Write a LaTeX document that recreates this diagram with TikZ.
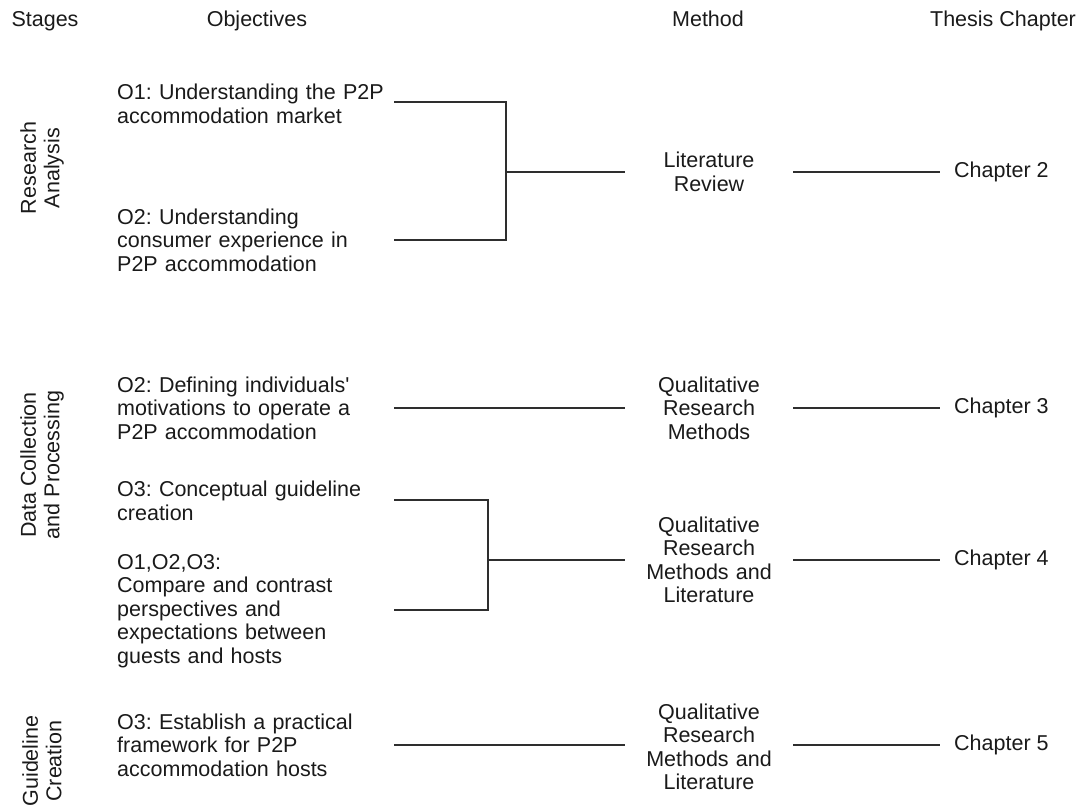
\documentclass[tikz,border=0pt]{standalone}
\usepackage{fontspec}
\setmainfont{Liberation Sans}[Ligatures=TeXOff]
\definecolor{txt}{HTML}{1A1A1A}
\definecolor{ln}{HTML}{2E2E2E}
\frenchspacing
\begin{document}
\begin{tikzpicture}[x=1pt,y=-1pt,
  every node/.style={font=\fontsize{21.5}{23.5}\selectfont, text=txt},
  header/.style={anchor=base, inner sep=0pt},
  stagelbl/.style={rotate=90, align=center, inner sep=0pt},
  objective/.style={anchor=west, text width=277pt, align=left, inner sep=0pt},
  method/.style={text width=168pt, align=center, inner sep=0pt},
  chapter/.style={anchor=west, inner xsep=14pt, inner ysep=0pt},
  conn/.style={draw=ln, line width=1.4pt}]
\useasboundingbox (0,0) rectangle (1084,805);
% headers
\node[header] (hs) at (45,27) {Stages};
\node[header] (ho) at (257,27) {Objectives};
\node[header] (hm) at (708,27) {Method};
\node[header] (hc) at (1003,27) {Thesis Chapter};
% stages
\node[stagelbl] (s1) at (42,168) {Research\\Analysis};
\node[stagelbl] (s2) at (42,465) {Data Collection\\and Processing};
\node[stagelbl] (s3) at (42,761) {Guideline\\Creation};
% objectives
\node[objective] (o1) at (117,104) {O1: Understanding the P2P\\accommodation market};
\node[objective] (o2) at (117,240) {O2: Understanding\\consumer experience in\\P2P accommodation};
\node[objective] (o3) at (117,408) {O2: Defining individuals'\\motivations to operate a\\P2P accommodation};
\node[objective] (o4) at (117,501) {O3: Conceptual guideline\\creation};
\node[objective] (o5) at (117,611) {O1,O2,O3:\\Compare and contrast\\perspectives and\\expectations between\\guests and hosts};
\node[objective] (o6) at (117,745) {O3: Establish a practical\\framework for P2P\\accommodation hosts};
% methods
\node[method] (m1) at (709,172) {Literature\\Review};
\node[method] (m2) at (709,408) {Qualitative\\Research\\Methods};
\node[method] (m3) at (709,560) {Qualitative\\Research\\Methods and\\Literature};
\node[method] (m4) at (709,747) {Qualitative\\Research\\Methods and\\Literature};
% chapters
\node[chapter] (c2) at (940,172) {Chapter 2};
\node[chapter] (c3) at (940,408) {Chapter 3};
\node[chapter] (c4) at (940,560) {Chapter 4};
\node[chapter] (c5) at (940,745) {Chapter 5};
% junctions
\coordinate (j1) at (506,172);
\coordinate (j2) at (488,560);
% connectors
\draw[conn] ([yshift=2pt]o1.east) -| (j1) |- (o2.east);
\draw[conn] (j1) -- (m1.west);
\draw[conn] (m1.east) -- (c2.west);
\draw[conn] (o3.east) -- (m2.west);
\draw[conn] (m2.east) -- (c3.west);
\draw[conn] ([yshift=1pt]o4.east) -| (j2) |- ([yshift=1pt]o5.east);
\draw[conn] (j2) -- (m3.west);
\draw[conn] (m3.east) -- (c4.west);
\draw[conn] (o6.east) -- (o6.east -| m4.west);
\draw[conn] (m4.east |- c5.west) -- (c5.west);
\end{tikzpicture}
\end{document}
